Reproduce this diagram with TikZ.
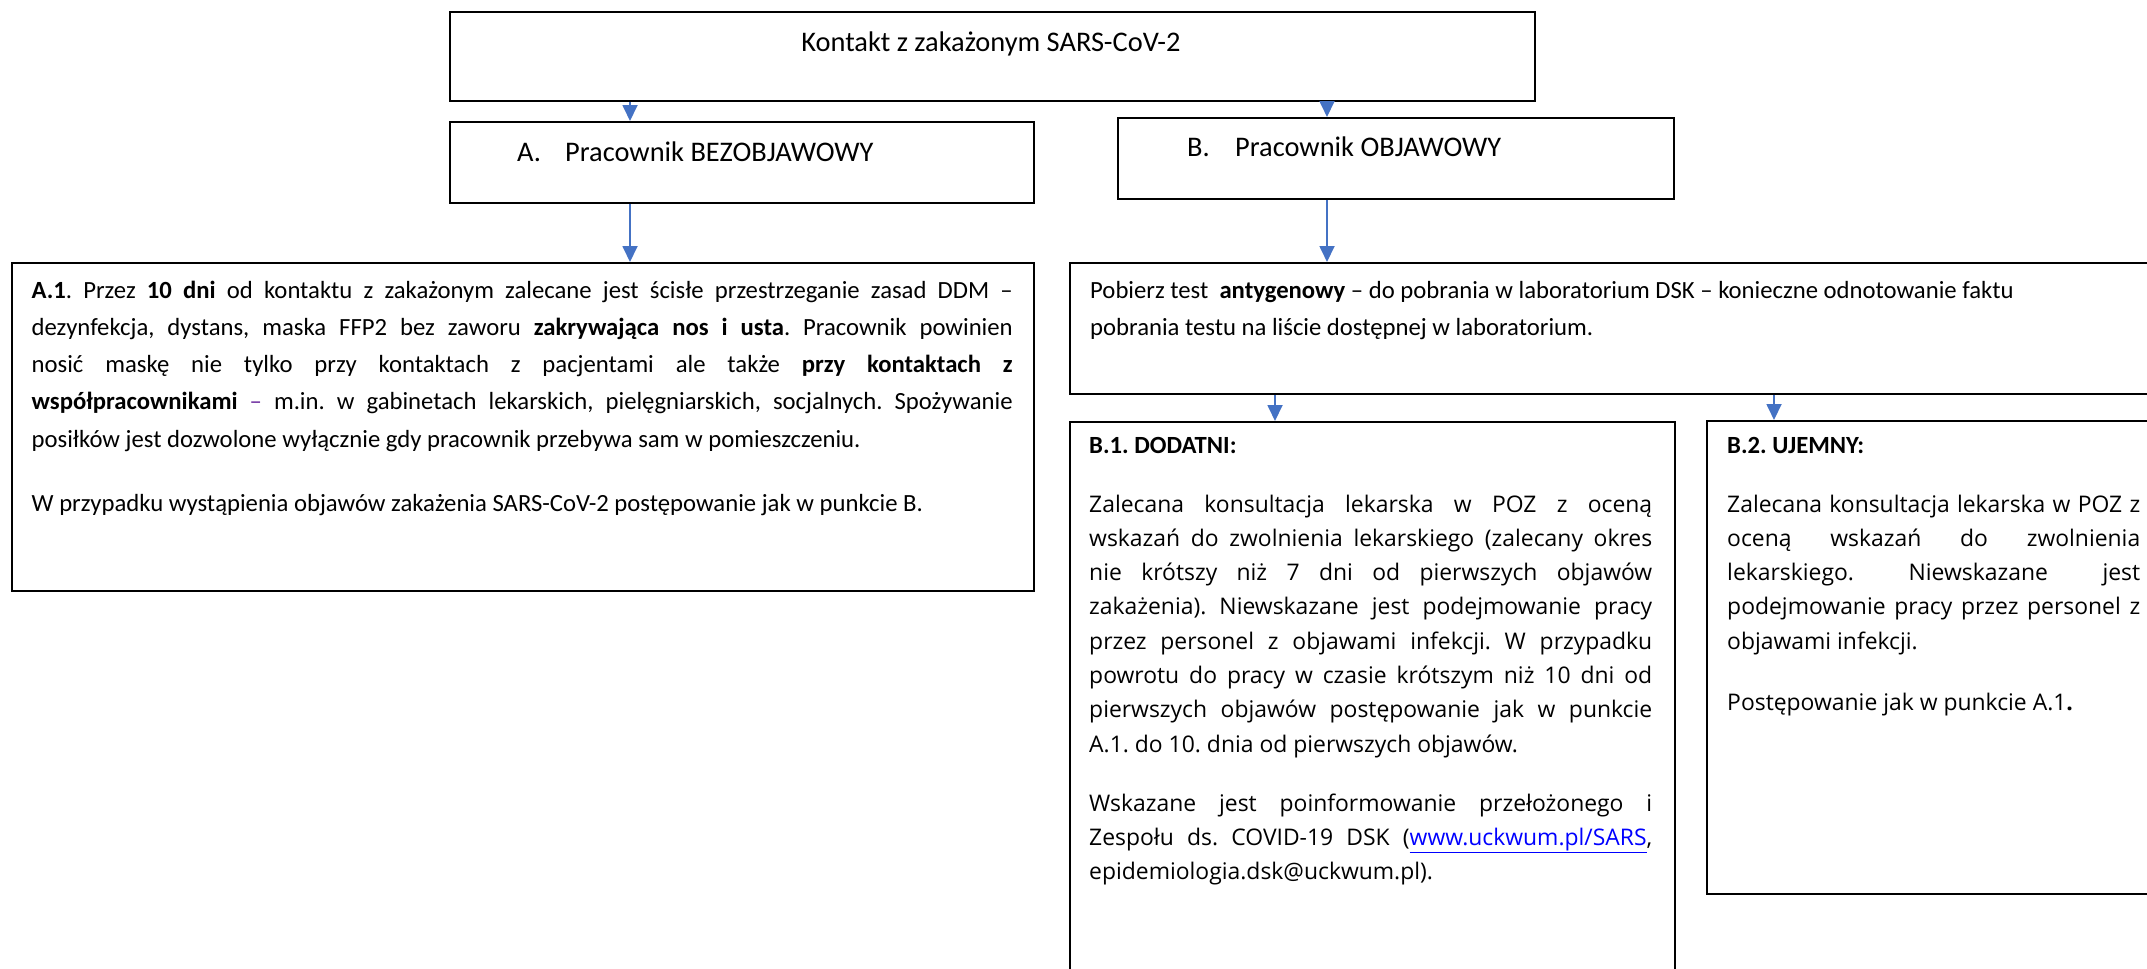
\documentclass[tikz,border=0pt]{standalone}
\usepackage{fontspec}
\setmainfont{Carlito}
\newfontfamily\wideface{Open Sans}
\usetikzlibrary{arrows.meta}
\definecolor{arrblue}{HTML}{4472C4}
\definecolor{linkblue}{HTML}{0000FF}
\definecolor{dashpurple}{HTML}{7030A0}
\tikzset{x=1pt, y=-1pt,
    box/.style={draw, line width=1.8pt, inner sep=0pt, anchor=north west},
    arr/.style={draw=arrblue, line width=1.8pt, -{Triangle[length=16pt,width=15pt]}},
    txt/.style={inner sep=0pt, anchor=base west, font=\fontsize{24.7}{37.3}\selectfont},
    para/.style={txt, align=justify},
    head/.style={inner sep=0pt, anchor=base west, font=\fontsize{28.4}{34}\selectfont},
    body/.style={inner sep=0pt, anchor=base west, align=justify,
        font=\wideface\fontsize{22.9}{34.3}\selectfont},
    }
\newcommand{\lbl}[1]{\makebox[48pt][l]{#1}}

\begin{document}
\frenchspacing
\tolerance=10000
\hbadness=10000
\begin{tikzpicture}
\useasboundingbox (0,0) rectangle (2147,969);
\clip (0,0) rectangle (2147,969);
% boxes
\node[box, minimum width=1085pt, minimum height=89pt] (top) at (449,11) {};
\node[box, minimum width=584pt, minimum height=81pt] (boxA) at (449,121) {};
\node[box, minimum width=556pt, minimum height=81pt] (boxB) at (1117,117) {};
\node[box, minimum width=1022pt, minimum height=328pt] (a1) at (11,262) {};
\node[box, minimum width=1100pt, minimum height=131pt] (test) at (1069,262) {};
\node[box, minimum width=605pt, minimum height=580pt] (b1) at (1069,421) {};
\node[box, minimum width=460pt, minimum height=473pt] (b2) at (1706,420) {};
% texts
\node[head, anchor=base] (toptext) at (991,51) {Kontakt z zakażonym SARS-CoV-2};
\node[head] (textA) at (517,161) {\lbl{A.}Pracownik BEZOBJAWOWY};
\node[head] (textB) at (1187,156) {\lbl{B.}Pracownik OBJAWOWY};
\node[para, text width=981pt] (a1text) at (31.5,298) {%
\textbf{A.1}. Przez \textbf{10 dni} od kontaktu z zakażonym zalecane jest ścisłe przestrzeganie zasad DDM –\linebreak
dezynfekcja, dystans, maska FFP2 bez zaworu \textbf{zakrywająca nos i usta}. Pracownik powinien\linebreak
nosić maskę nie tylko przy kontaktach z pacjentami ale także \textbf{przy kontaktach z}\linebreak
\textbf{współpracownikami} \textcolor{dashpurple}{–} m.in. w gabinetach lekarskich, pielęgniarskich, socjalnych. Spożywanie\linebreak
posiłków jest dozwolone wyłącznie gdy pracownik przebywa sam w pomieszczeniu.\\[26.7pt]
W przypadku wystąpienia objawów zakażenia SARS-CoV-2 postępowanie jak w punkcie B.};
\node[para, text width=1040pt] (testtext) at (1090,298) {%
Pobierz test~ \textbf{antygenowy} – do pobrania w laboratorium DSK – konieczne odnotowanie faktu\\
pobrania testu na liście dostępnej w laboratorium.};
\node[txt] (b1title) at (1089,453) {\textbf{B.1. DODATNI:}};
\node[body, text width=563pt] (b1text) at (1089,512) {%
Zalecana konsultacja lekarska w POZ z oceną\linebreak
wskazań do zwolnienia lekarskiego (zalecany okres\linebreak
nie krótszy niż 7 dni od pierwszych objawów\linebreak
zakażenia). Niewskazane jest podejmowanie pracy\linebreak
przez personel z objawami infekcji. W przypadku\linebreak
powrotu do pracy w czasie krótszym niż 10 dni od\linebreak
pierwszych objawów postępowanie jak w punkcie\linebreak
A.1. do 10. dnia od pierwszych objawów.\\[24.7pt]
Wskazane jest poinformowanie przełożonego i\linebreak
Zespołu ds. COVID-19 DSK (\textcolor{linkblue}{\underline{www.uckwum.pl/SARS}},\linebreak
epidemiologia.dsk@uckwum.pl).};
\node[txt] (b2title) at (1727,453) {\textbf{B.2. UJEMNY:}};
\node[body, text width=413pt] (b2text) at (1727,512) {%
Zalecana konsultacja lekarska w POZ z\linebreak
oceną wskazań do zwolnienia\linebreak
lekarskiego. Niewskazane jest\linebreak
podejmowanie pracy przez personel z\linebreak
objawami infekcji.\\[26.7pt]
Postępowanie jak w punkcie A.1\textbf{.}};
% arrows
\coordinate (xa) at (630,0);
\coordinate (xb) at (1327,0);
\coordinate (xb1) at (1275,0);
\coordinate (xb2) at (1774,0);
\draw[arr] (xa |- top.south) -- (xa |- boxA.north);
\draw[arr] (xb |- top.south) -- (xb |- boxB.north);
\draw[arr] (xa |- boxA.south) -- (xa |- a1.north);
\draw[arr] (xb |- boxB.south) -- (xb |- test.north);
\draw[arr] (xb1 |- test.south) -- (xb1 |- b1.north);
\draw[arr] (xb2 |- test.south) -- (xb2 |- b2.north);
\end{tikzpicture}
\end{document}
